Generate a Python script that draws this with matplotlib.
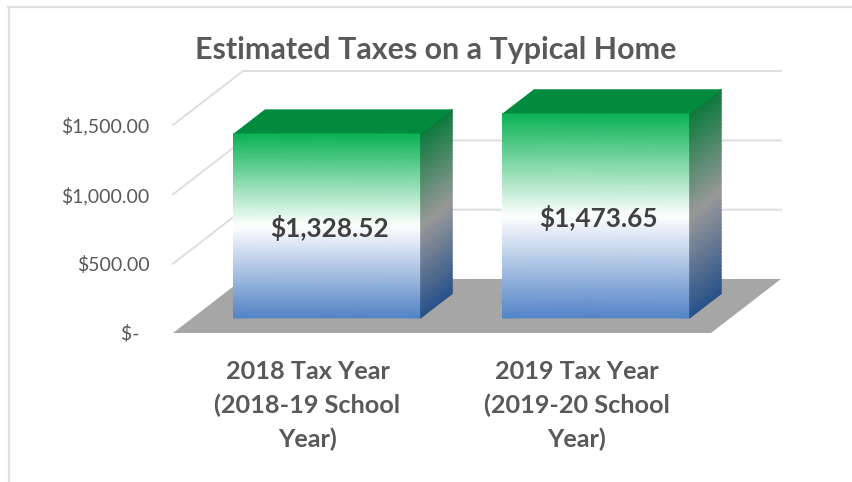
import matplotlib
matplotlib.use('Agg')
import matplotlib.pyplot as plt
from matplotlib.colors import LinearSegmentedColormap
from matplotlib.lines import Line2D
import numpy as np

categories = ['2018 Tax Year\n(2018-19 School\nYear)', '2019 Tax Year\n(2019-20 School\nYear)']
values = [1328.52, 1473.65]
value_labels = ['$1,328.52', '$1,473.65']
y_ticks = [0, 500, 1000, 1500]
y_tick_labels = ['$-  ', '$500.00', '$1,000.00', '$1,500.00']

W, H = 852, 482
plt.rcParams['font.family'] = ['Lato', 'DejaVu Sans']

fig = plt.figure(figsize=(W / 100, H / 100), dpi=100)
ax = fig.add_axes([173 / W, 1 - 333 / H, 538 / W, 208 / H])
ax.set_xlim(-0.5, 1.5)
ax.set_ylim(0, 1500)
ax.patch.set_visible(False)
for s in ax.spines.values():
    s.set_visible(False)


# oblique depth: depth 1 is the back wall of the chart
def project(x, y, depth):
    return x + depth * 70 / 269, y + depth * 54 * 1500 / 208


front_cmap = LinearSegmentedColormap.from_list('front', ['#5384c6', '#ffffff', '#0ab255'])
side_cmap = LinearSegmentedColormap.from_list('side', ['#28528a', '#999999', '#0d7a3e'])

# grid lines on the walls
for v in y_ticks[1:]:
    px, py = zip(project(-0.5, v, 0), project(-0.5, v, 1), project(1.5, v, 1))
    ax.plot(px, py, color='#dedede', lw=1.4, clip_on=False, zorder=1)

# floor
corners = [project(-0.5, 0, 0), project(1.5, 0, 0), project(1.5, 0, 1), project(-0.5, 0, 1)]
ax.fill([c[0] for c in corners], [c[1] for c in corners], color='#a6a6a6', lw=0,
        clip_on=False, zorder=2)

bar_w = 0.696
d0, d1 = 0.28, 0.73
frac = np.linspace(0, 1, 60)

for i, v in enumerate(values):
    left = i - bar_w / 2
    right = i + bar_w / 2

    # front face
    x0, y0 = project(left, frac * v, d0)
    x1, y1 = project(right, frac * v, d0)
    X = np.column_stack([x0 * np.ones(60), x1 * np.ones(60)])
    Y = np.column_stack([y0, y1])
    C = np.column_stack([frac, frac])
    ax.pcolormesh(X, Y, C, cmap=front_cmap, vmin=0, vmax=1, shading='gouraud',
                  clip_on=False, zorder=4)

    # side face
    x0, y0 = project(right, frac * v, d0)
    x1, y1 = project(right, frac * v, d1)
    X = np.column_stack([x0 * np.ones(60), x1 * np.ones(60)])
    Y = np.column_stack([y0, y1])
    ax.pcolormesh(X, Y, C, cmap=side_cmap, vmin=0, vmax=1, shading='gouraud',
                  clip_on=False, zorder=4)

    # top face
    top = [project(left, v, d0), project(right, v, d0), project(right, v, d1), project(left, v, d1)]
    ax.fill([c[0] for c in top], [c[1] for c in top], color='#028a3f', lw=0,
            clip_on=False, zorder=4)

    ax.annotate(value_labels[i], project(i, v / 2, d0), xytext=(2, -2), textcoords='offset pixels',
                ha='center', va='center', fontsize=18.8, fontweight='bold', color='#404040',
                zorder=5)

ax.set_xticks([0, 1])
ax.set_xticklabels(categories, fontsize=18.2, fontweight='bold', color='#595959', linespacing=1.52)
ax.set_yticks(y_ticks)
ax.set_yticklabels(y_tick_labels, fontsize=14, color='#595959')
ax.tick_params(axis='both', length=0)
ax.tick_params(axis='x', pad=19.7)
ax.tick_params(axis='y', pad=17)

fig.text(436 / W, 1 - 49.5 / H, 'Estimated Taxes on a Typical Home', ha='center', va='center',
         fontsize=21.9, fontweight='bold', color='#595959')

# outer chart frame, cropped at right and bottom
fig.add_artist(Line2D([8.5 / W, 8.5 / W], [0, 1 - 7 / H], color='#e0e0e0', lw=1.6))
fig.add_artist(Line2D([8 / W, 1], [1 - 7 / H, 1 - 7 / H], color='#e0e0e0', lw=1.6))

fig.savefig('out.png', dpi=100)
